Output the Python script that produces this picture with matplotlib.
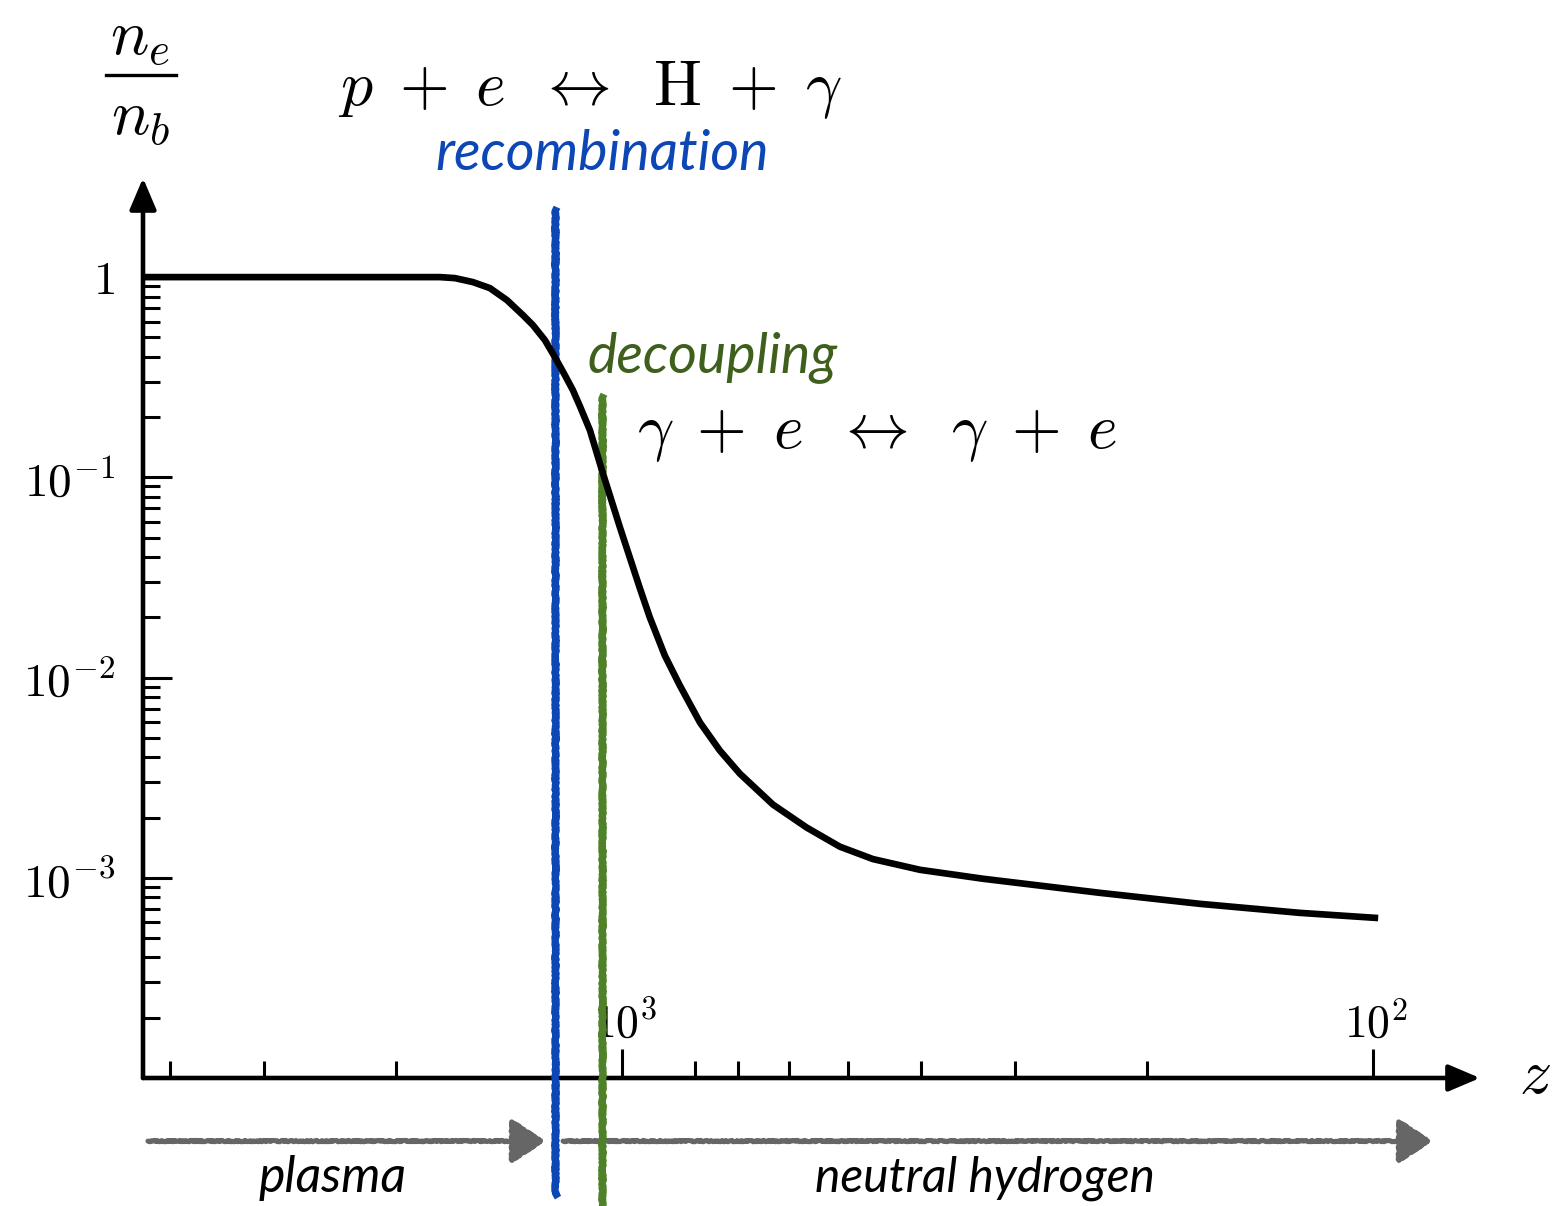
import matplotlib.pyplot as plt
from matplotlib.patches import FancyArrowPatch

plt.rcParams['mathtext.fontset'] = 'cm'
plt.rcParams['font.family'] = ['Lato', 'DejaVu Sans']

# free electron fraction n_e/n_b against redshift z
z_vals = [4343, 1975, 1747.6, 1669.0, 1579.0, 1499.0, 1422.6, 1354.6, 1313.7,
          1266.3, 1228.1, 1191.1, 1162.2, 1137.5, 1103.1, 1063.2, 1006.1, 946.3,
          918.0, 876.8, 837.2, 787.1, 740.7, 696.5, 629.3, 567.3, 512.6, 463.2,
          401.0, 330.6, 230.9, 169.9, 125.1, 99.4]
xe_vals = [1.0, 1.0, 1.0, 0.9886, 0.9441, 0.8810, 0.7674, 0.6457, 0.5754,
           0.4842, 0.3981, 0.3236, 0.2723, 0.2265, 0.1718, 0.1084, 0.05623, 0.02786,
           0.01995, 0.01288, 0.00912, 0.00596, 0.00432, 0.00331, 0.00232, 0.00178,
           0.00143, 0.00124, 0.001096, 0.000989, 0.000841, 0.000741, 0.000668,
           0.000631]

z_recomb = 1228
z_decoup = 1063

y_major = [1.0, 1e-1, 1e-2, 1e-3]
y_major_labels = [r'$1$', r'$10^{-1}$', r'$10^{-2}$', r'$10^{-3}$']
y_minor = [m * 10.0 ** e for e in (-1, -2, -3, -4) for m in range(2, 10)]
x_major = [1000, 100]
x_major_labels = [r'$10^3$', r'$10^2$']
x_minor = [4000, 3000, 2000, 800, 700, 600, 500, 400, 300, 200]

blue = '#0d47b5'
green = '#4f8228'
green_text = '#3f5f1c'
gray = '#666666'

fig = plt.figure(figsize=(15.52, 12.06), dpi=100)
ax = fig.add_axes([143 / 1552, 1 - 1078 / 1206, (1480 - 143) / 1552, 900 / 1206])
ax.set_xscale('log')
ax.set_yscale('log')
ax.set_xlim(4343, 72)
ax.set_ylim(1e-4, 10 ** 0.495)

for s in ax.spines.values():
    s.set_visible(False)

ax.plot(z_vals, xe_vals, color='k', lw=4.8, solid_joinstyle='round', zorder=5)

# ticks
ax.set_yticks(y_major, y_major_labels)
ax.set_yticks(y_minor, minor=True)
ax.set_xticks(x_major, ['', ''])
ax.set_xticks(x_minor, minor=True)
ax.xaxis.set_minor_formatter(plt.NullFormatter())
ax.yaxis.set_minor_formatter(plt.NullFormatter())
ax.tick_params(which='both', direction='in', width=2.2, color='k')
ax.tick_params(which='major', length=21)
ax.tick_params(which='minor', length=12.5)
ax.tick_params(axis='y', which='major', labelsize=34, pad=20)
for z, lab in zip(x_major, x_major_labels):
    ax.text(z * 0.99, 0.045, lab, transform=ax.get_xaxis_transform(),
            ha='center', va='baseline', fontsize=33)

# axes with arrow heads
arrow_kw = dict(arrowstyle='-|>,head_length=0.4,head_width=0.17', color='k',
                lw=3.3, mutation_scale=48, shrinkA=0, shrinkB=0)
ax.annotate('', xy=(1, 0), xytext=(0, 0), xycoords='axes fraction',
            arrowprops=arrow_kw, annotation_clip=False)
ax.annotate('', xy=(0, 1), xytext=(0, 0), xycoords='axes fraction',
            arrowprops=arrow_kw, annotation_clip=False)

# recombination and decoupling epochs
lb, = ax.plot([z_recomb, z_recomb], [10 ** 0.335, 10 ** -4.58], color=blue,
              lw=5.2, clip_on=False, zorder=4)
lg, = ax.plot([z_decoup, z_decoup], [10 ** -0.6, 10 ** -4.7], color=green,
              lw=5.2, clip_on=False, zorder=4)
for ln in (lb, lg):
    ln.set_sketch_params(scale=0.7, length=3, randomness=3)

# plasma / neutral hydrogen arrows
y_arr = 10 ** -4.315
for z0, z1 in [(4278, 1266), (1198, 83.4)]:
    arr = FancyArrowPatch((z0, y_arr), (z1, y_arr),
                          arrowstyle='-|>,head_length=0.45,head_width=0.3',
                          mutation_scale=46, color=gray, lw=3.6,
                          shrinkA=0, shrinkB=0, clip_on=False, zorder=3)
    arr.set_sketch_params(scale=0.7, length=3, randomness=3)
    ax.add_patch(arr)

# y axis label as a stacked fraction
fig.text(140 / 1552, 1 - 40 / 1206, r'$n_e$', fontsize=46, ha='center', va='center')
fig.text(140 / 1552, 1 - 120 / 1206, r'$n_b$', fontsize=46, ha='center', va='center')
fig.add_artist(plt.Line2D([106 / 1552, 176 / 1552], [1 - 75 / 1206, 1 - 75 / 1206],
                          color='k', lw=2.4))
fig.text(1535 / 1552, 1 - 1075 / 1206, r'$z$', fontsize=46, ha='center', va='center')

fig.text(590 / 1552, 1 - 90 / 1206,
         r'$p\;+\;e\;\;\leftrightarrow\;\;\mathrm{H}\;+\;\gamma$',
         fontsize=46, ha='center', va='center')
fig.text(877 / 1552, 1 - 435 / 1206,
         r'$\gamma\;+\;e\;\;\leftrightarrow\;\;\gamma\;+\;e$',
         fontsize=46, ha='center', va='center')
fig.text(602 / 1552, 1 - 155 / 1206, 'recombination', color=blue, fontsize=40,
         style='italic', ha='center', va='center')
fig.text(713 / 1552, 1 - 357 / 1206, 'decoupling', color=green_text, fontsize=40,
         style='italic', ha='center', va='center')
fig.text(333 / 1552, 1 - 1178 / 1206, 'plasma', color='k', fontsize=36,
         style='italic', ha='center', va='center')
fig.text(985 / 1552, 1 - 1178 / 1206, 'neutral hydrogen', color='k', fontsize=34.5,
         style='italic', ha='center', va='center')

fig.savefig('out.png', dpi=100)
